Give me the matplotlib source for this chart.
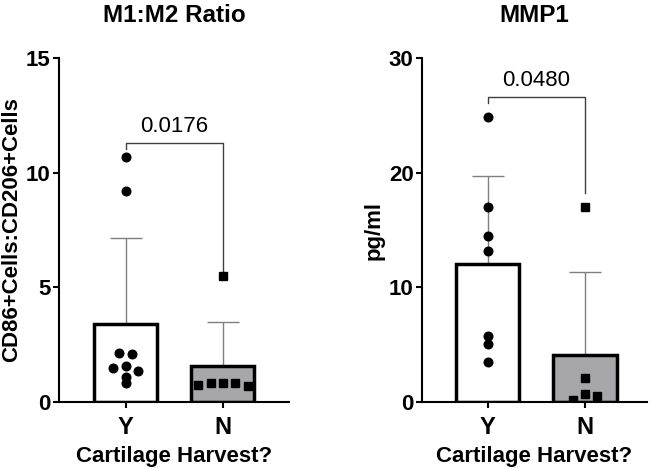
import matplotlib
matplotlib.use('Agg')
import matplotlib.pyplot as plt
import numpy as np

plt.rcParams['font.family'] = ['Liberation Sans', 'DejaVu Sans']

# ------------------------------------------------------------------
# Dados
groups = ['Y', 'N']

m1m2_yes = [10.7, 9.2, 2.14, 2.1, 1.48, 1.57, 1.35, 1.09, 0.83]
m1m2_yes_dx = [0, 0, -0.07, 0.06, -0.135, 0, 0.12, 0, 0]
m1m2_no = [5.5, 0.74, 0.83, 0.83, 0.83, 0.70]
m1m2_no_dx = [0, -0.26, -0.12, 0, 0.12, 0.26]
m1m2_p = '0.0176'

mmp1_yes = [24.9, 17.0, 14.5, 13.2, 5.8, 5.1, 3.5]
mmp1_yes_dx = [0, 0, 0, 0, 0, 0, 0]
mmp1_no = [17.0, 2.1, 0.7, 0.5, 0.2]
mmp1_no_dx = [0, 0, 0, 0.12, -0.12]
mmp1_p = '0.0480'

# ------------------------------------------------------------------
fig = plt.figure(figsize=(6.53, 4.68), dpi=100)
ax1 = fig.add_axes([0.0904, 0.141, 0.352, 0.735])
ax2 = fig.add_axes([0.646, 0.141, 0.345, 0.735])


def panel(ax, yes, yes_dx, no, no_dx, ymax, yticks, title, ylabel, ptxt,
          br_top, br_left, br_right, txt_y, xlim):
    data = [np.array(yes), np.array(no)]
    dxs = [yes_dx, no_dx]
    means = [d.mean() for d in data]
    sds = [d.std(ddof=1) for d in data]
    x = np.arange(2)
    colors = ['white', '#a7a7aa']
    for i in range(2):
        ax.errorbar(x[i], means[i], yerr=[[0], [sds[i]]], color='#7f7f7f',
                    lw=1, capsize=11.5, capthick=1, zorder=1)
        ax.bar(x[i], means[i], width=0.65, color=colors[i], edgecolor='black',
               linewidth=2.5, zorder=2)
    ax.plot(x[0] + np.array(dxs[0]), data[0], 'o', color='black', ms=6.2,
            zorder=3)
    ax.plot(x[1] + np.array(dxs[1]), data[1], 's', color='black', ms=5.6,
            zorder=3)
    # barra de significancia
    ax.plot([0, 0, 1, 1], [br_left, br_top, br_top, br_right], color='#404040',
            lw=1, zorder=1)
    ax.text(0.5, txt_y, ptxt, ha='center', va='center', fontsize=16)

    ax.set_xlim(xlim)
    ax.set_ylim(0, ymax)
    ax.set_yticks(yticks)
    ax.set_yticklabels([str(t) for t in yticks], fontsize=16, fontweight='bold')
    ax.set_xticks(x)
    ax.set_xticklabels(groups, fontsize=17, fontweight='bold')
    ax.spines['top'].set_visible(False)
    ax.spines['right'].set_visible(False)
    ax.spines['left'].set_linewidth(1.5)
    ax.spines['bottom'].set_linewidth(1.5)
    ax.tick_params(axis='both', width=1.5, length=4, pad=2)
    ax.tick_params(axis='x', pad=6)
    ax.set_title(title, fontsize=17.5, fontweight='bold', pad=26)
    ax.set_xlabel('Cartilage Harvest?', fontsize=16, fontweight='bold',
                  labelpad=5)
    ax.set_ylabel(ylabel, fontsize=16, fontweight='bold', labelpad=3)


panel(ax1, m1m2_yes, m1m2_yes_dx, m1m2_no, m1m2_no_dx, 15, [0, 5, 10, 15],
      'M1:M2 Ratio', 'CD86+Cells:CD206+Cells', m1m2_p,
      11.3, 11.05, 5.7, 12.0, (-0.69, 1.68))
panel(ax2, mmp1_yes, mmp1_yes_dx, mmp1_no, mmp1_no_dx, 30, [0, 10, 20, 30],
      'MMP1', 'pg/ml', mmp1_p,
      26.6, 26.1, 18.2, 28.0, (-0.68, 1.64))

fig.savefig('out.png', dpi=100)
plt.close('all')
